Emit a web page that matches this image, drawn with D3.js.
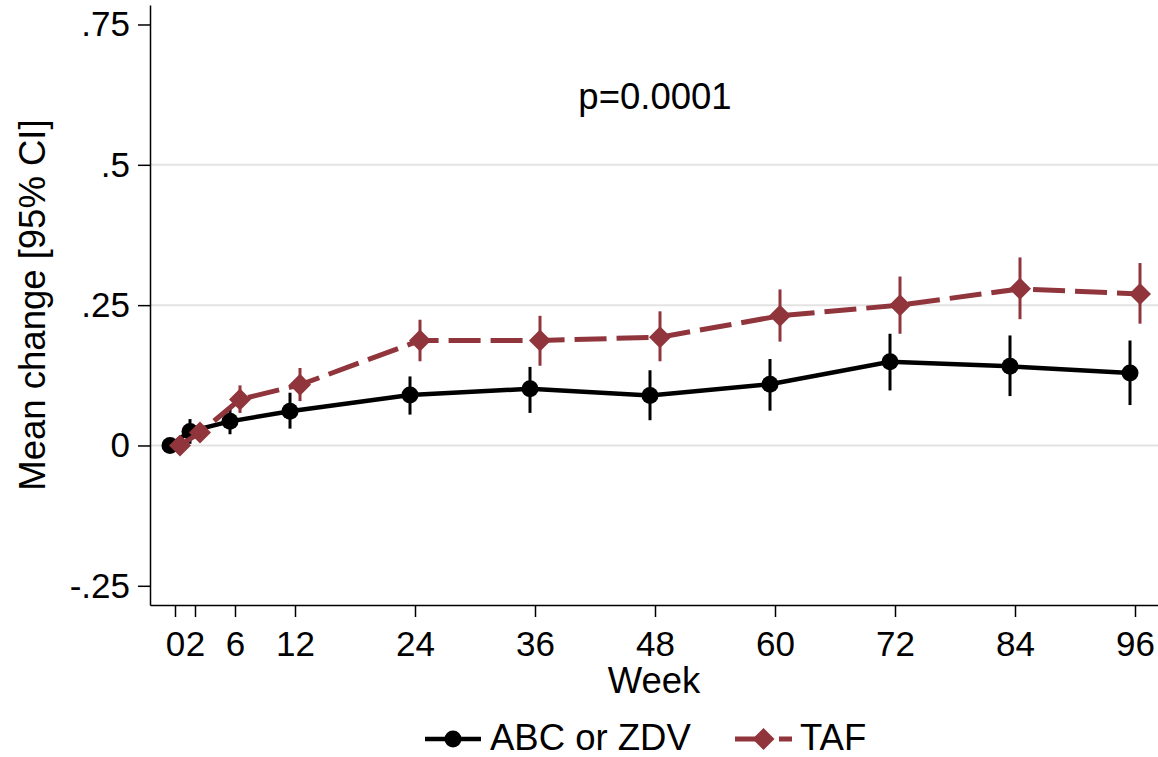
<!DOCTYPE html>
<html>
<head>
<meta charset="utf-8">
<script src="https://cdn.jsdelivr.net/npm/d3@7"></script>
<style>
  body { margin: 0; background: #fff; }
  svg { font-family: "Liberation Sans", Arial, sans-serif; }
</style>
</head>
<body>
<svg id="grafico"></svg>
<script>
const semanas = [0, 2, 6, 12, 24, 36, 48, 60, 72, 84, 96];
const abcMedia = [0, 0.025, 0.043, 0.061, 0.090, 0.101, 0.089, 0.109, 0.149, 0.141, 0.129];
const abcInf = [0, 0.003, 0.020, 0.030, 0.055, 0.058, 0.045, 0.062, 0.098, 0.088, 0.072];
const abcSup = [0, 0.047, 0.067, 0.094, 0.123, 0.140, 0.134, 0.154, 0.199, 0.196, 0.187];
const tafMedia = [0, 0.023, 0.082, 0.108, 0.187, 0.187, 0.193, 0.231, 0.250, 0.279, 0.270];
const tafInf = [0, 0.008, 0.058, 0.079, 0.150, 0.142, 0.150, 0.185, 0.199, 0.225, 0.217];
const tafSup = [0, 0.037, 0.107, 0.138, 0.224, 0.231, 0.239, 0.278, 0.301, 0.335, 0.325];
const ticksY = [-0.25, 0, 0.25, 0.5, 0.75];
const rotulosY = ['-.25', '0', '.25', '.5', '.75'];
const gradeY = [0, 0.25, 0.5];
const ticksX = [0, 2, 6, 12, 24, 36, 48, 60, 72, 84, 96];

const largura = 1158, altura = 757;
const margem = { esquerda: 150, direita: 0, superior: 5, inferior: 152 };
const fonteTick = 35;
const fonte = 36.5;
const vinho = '#90353b';

const svg = d3.select('#grafico').attr('width', largura).attr('height', altura);

const x = d3.scaleLinear().domain([-2.5, 98.3]).range([margem.esquerda, largura - margem.direita]);
const y = d3.scaleLinear().domain([-0.2842, 0.7847]).range([altura - margem.inferior, margem.superior]);

// grade
svg.append('g').selectAll('line')
  .data(gradeY)
  .enter()
  .append('line')
  .attr('x1', x.range()[0]).attr('x2', x.range()[1])
  .attr('y1', d => y(d)).attr('y2', d => y(d))
  .attr('stroke', '#e3e3e3').attr('stroke-width', 2);

// eixos
const eixoY = svg.append('g')
  .attr('transform', `translate(${margem.esquerda},0)`)
  .call(d3.axisLeft(y).tickValues(ticksY).tickFormat((d, i) => rotulosY[i]).tickSize(12).tickSizeOuter(0).tickPadding(8));

const eixoX = svg.append('g')
  .attr('transform', `translate(0,${altura - margem.inferior})`)
  .call(d3.axisBottom(x).tickValues(ticksX).tickSize(12).tickSizeOuter(0).tickPadding(14));

[eixoY, eixoX].forEach(e => {
  e.select('.domain').attr('stroke-width', 1.5);
  e.selectAll('.tick line').attr('stroke-width', 1.5);
  e.selectAll('.tick text').attr('font-size', fonteTick).attr('fill', '#000').attr('font-family', null);
});
eixoX.selectAll('.tick text').attr('dy', '0.71em');

// titulos
svg.append('text')
  .attr('x', (x.range()[0] + x.range()[1]) / 2)
  .attr('y', 693)
  .attr('text-anchor', 'middle')
  .attr('font-size', fonte)
  .text('Week');

svg.append('text')
  .attr('transform', `translate(45,${(y.range()[0] + y.range()[1]) / 2}) rotate(-90)`)
  .attr('text-anchor', 'middle')
  .attr('font-size', fonte)
  .text('Mean change [95% CI]');

svg.append('text')
  .attr('x', x(48))
  .attr('y', 109)
  .attr('text-anchor', 'middle')
  .attr('font-size', fonte)
  .text('p=0.0001');

// series
const series = [
  { nome: 'ABC or ZDV', media: abcMedia, inf: abcInf, sup: abcSup, cor: '#000', desloc: -0.5, traco: null, larg: 4.5, marca: 'circulo' },
  { nome: 'TAF', media: tafMedia, inf: tafInf, sup: tafSup, cor: vinho, desloc: 0.5, traco: '32,10', larg: 5, marca: 'losango' }
];

const simboloCirculo = d3.symbol().type(d3.symbolCircle).size(Math.PI * 8.5 * 8.5);
const losango = 'M0,-11L11,0L0,11L-11,0Z';

series.forEach(s => {
  const pontos = semanas.map((w, i) => ({ w: w + s.desloc, m: s.media[i], lo: s.inf[i], hi: s.sup[i] }));
  const g = svg.append('g');

  g.append('path')
    .datum(pontos)
    .attr('d', d3.line().x(d => x(d.w)).y(d => y(d.m)))
    .attr('fill', 'none')
    .attr('stroke', s.cor)
    .attr('stroke-width', s.larg)
    .attr('stroke-dasharray', s.traco);

  g.selectAll('.ic')
    .data(pontos)
    .enter()
    .append('line')
    .attr('x1', d => x(d.w)).attr('x2', d => x(d.w))
    .attr('y1', d => y(d.lo)).attr('y2', d => y(d.hi))
    .attr('stroke', s.cor).attr('stroke-width', 3);

  g.selectAll('.marca')
    .data(pontos)
    .enter()
    .append('path')
    .attr('transform', d => `translate(${x(d.w)},${y(d.m)})`)
    .attr('d', s.marca === 'circulo' ? simboloCirculo() : losango)
    .attr('fill', s.cor);
});

// legenda
const legenda = [
  { serie: series[0], x0: 425, x1: 481, xt: 490 },
  { serie: series[1], x0: 735, x1: 792, xt: 800 }
];
const yLeg = 739;
legenda.forEach(l => {
  const s = l.serie;
  svg.append('line')
    .attr('x1', l.x0).attr('x2', l.x1).attr('y1', yLeg).attr('y2', yLeg)
    .attr('stroke', s.cor).attr('stroke-width', s.larg)
    .attr('stroke-dasharray', s.traco ? '24,20,14' : null);
  svg.append('path')
    .attr('transform', `translate(${(l.x0 + l.x1) / 2},${yLeg})`)
    .attr('d', s.marca === 'circulo' ? simboloCirculo() : losango)
    .attr('fill', s.cor);
  svg.append('text')
    .attr('x', l.xt).attr('y', yLeg + 11)
    .attr('font-size', fonte)
    .text(s.nome);
});
</script>
</body>
</html>
